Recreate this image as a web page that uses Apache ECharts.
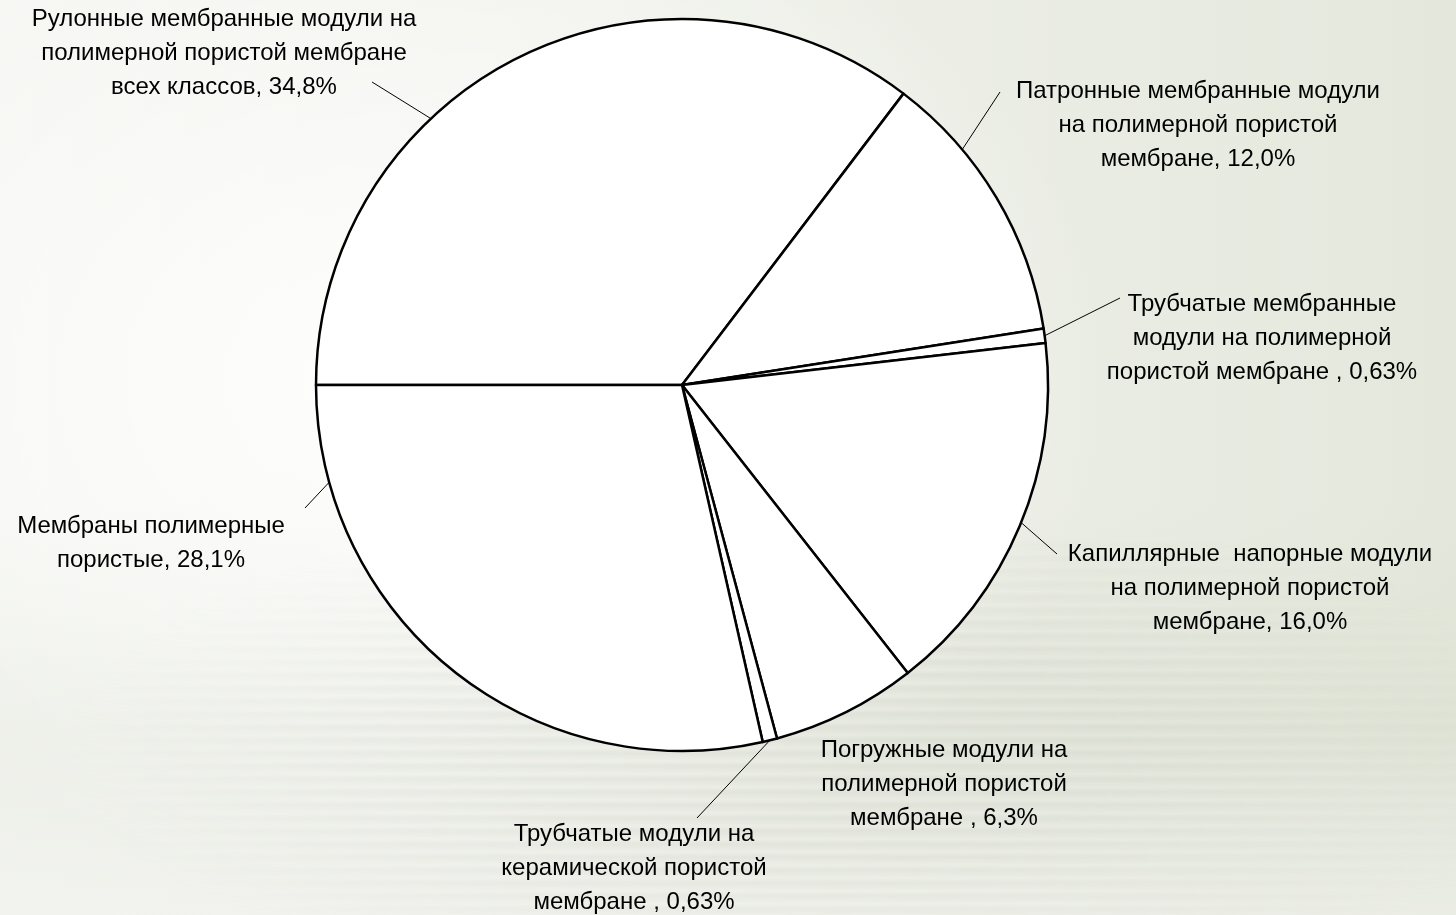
<!DOCTYPE html>
<html lang="ru">
<head>
<meta charset="utf-8">
<title>Структура рынка мембранной продукции</title>
<script src="https://cdn.jsdelivr.net/npm/echarts@6/dist/echarts.min.js"></script>
<style>
  html, body { margin: 0; padding: 0; width: 1456px; height: 915px; overflow: hidden; }
  body {
    position: relative;
    background:
      radial-gradient(ellipse 700px 520px at 420px 380px, rgba(255,255,255,0.95), rgba(255,255,255,0) 100%),
      linear-gradient(180deg, rgba(255,255,255,0) 55%, rgba(214,218,204,0.30) 80%, rgba(240,241,236,0.55) 100%),
      linear-gradient(90deg, #f6f7f3 0%, #f0f1eb 45%, #e4e8dc 100%);
  }
  /* faint stacked-paper texture in the lower part of the slide */
  .paper {
    position: absolute; left: 0; right: 0; top: 540px; bottom: 0;
    background: repeating-linear-gradient(180deg, rgba(150,158,140,0.00) 0px, rgba(150,158,140,0.11) 5px, rgba(255,255,255,0.0) 13px);
    -webkit-mask-image: radial-gradient(ellipse 760px 260px at 820px 210px, #000 40%, transparent 100%);
    mask-image: radial-gradient(ellipse 760px 260px at 820px 210px, #000 40%, transparent 100%);
  }
  #chart { position: absolute; left: 0; top: 0; width: 1456px; height: 915px; }
</style>
</head>
<body>
<div class="paper"></div>
<div id="chart"></div>
<script>
// Segment names (with line breaks as they are set in the labels)
const names = [
  'Рулонные мембранные модули на\nполимерной пористой мембране\nвсех классов',
  'Патронные мембранные модули\nна полимерной пористой\nмембране',
  'Трубчатые мембранные\nмодули на полимерной\nпористой мембране',
  'Капиллярные  напорные модули\nна полимерной пористой\nмембране',
  'Погружные модули на\nполимерной пористой\nмембране',
  'Трубчатые модули на\nкерамической пористой\nмембране',
  'Мембраны полимерные\nпористые'
];
// Shares, %
const values = [34.8, 12.0, 0.63, 16.0, 6.3, 0.63, 28.1];
// Decimal places shown in each label
const decimals = [1, 1, 2, 1, 1, 2, 1];
// Separator between the name and the share in each label
const separators = [', ', ', ', ' , ', ', ', ' , ', ' , ', ', '];

// Layout of the labels: centre of each text block
const labelPos = [
  [224, 53], [1198, 125], [1262, 338], [1250, 588], [944, 784], [634, 868], [151, 543]
];
// Where each leader line leaves its slice (fraction of the slice's arc)
const leaderAt = [0.367, 0.29, 0.5, 0.49, 0.5, 0.5, 0.85];
// Where each leader line meets its label (null = no leader)
const leaderEnd = [[372, 82], [1000, 92], [1120, 298], [1057, 554], null, [697, 818], [305, 508]];

const CENTER = [682, 385];
const RADIUS = 366;
const START_ANGLE = 180;

const chart = echarts.init(document.getElementById('chart'), null, { renderer: 'canvas' });

const fmt = (v, d) => v.toFixed(d).replace('.', ',');

// Point on the pie rim for a given fraction along slice i (same angle scheme as the pie layout)
function rimPoint(i, frac) {
  const total = values.reduce((a, b) => a + b, 0);
  let a0 = -START_ANGLE * Math.PI / 180;
  for (let k = 0; k < i; k++) a0 += values[k] / total * Math.PI * 2;
  const a1 = a0 + values[i] / total * Math.PI * 2;
  const a = a0 + (a1 - a0) * frac;
  return [CENTER[0] + RADIUS * Math.cos(a), CENTER[1] + RADIUS * Math.sin(a)];
}

const data = names.map((n, i) => ({
  name: n,
  value: values[i],
  labelLine: { show: leaderEnd[i] !== null }
}));

chart.setOption({
  backgroundColor: 'transparent',
  animation: false,
  series: [{
    type: 'pie',
    center: CENTER,
    radius: [0, RADIUS],
    startAngle: START_ANGLE,
    clockwise: true,
    avoidLabelOverlap: false,
    minAngle: 0,
    data: data,
    itemStyle: {
      color: '#ffffff',
      borderColor: '#000000',
      borderWidth: 2.5
    },
    emphasis: { disabled: true },
    label: {
      show: true,
      position: 'outside',
      color: '#000000',
      fontFamily: '"Liberation Sans", Arial, sans-serif',
      fontSize: 24,
      lineHeight: 34,
      align: 'center',
      formatter: p => p.name + separators[p.dataIndex] + fmt(values[p.dataIndex], decimals[p.dataIndex]) + '%'
    },
    labelLine: {
      show: true,
      length: 10,
      length2: 0,
      smooth: false,
      lineStyle: { color: '#000000', width: 1 }
    },
    labelLayout: params => {
      const i = params.dataIndex;
      const out = {
        x: labelPos[i][0],
        y: labelPos[i][1],
        align: 'center',
        verticalAlign: 'middle',
        hideOverlap: false
      };
      if (leaderEnd[i]) {
        const p = rimPoint(i, leaderAt[i]);
        out.labelLinePoints = [p, p, leaderEnd[i]];
      }
      return out;
    }
  }]
});
</script>
</body>
</html>
